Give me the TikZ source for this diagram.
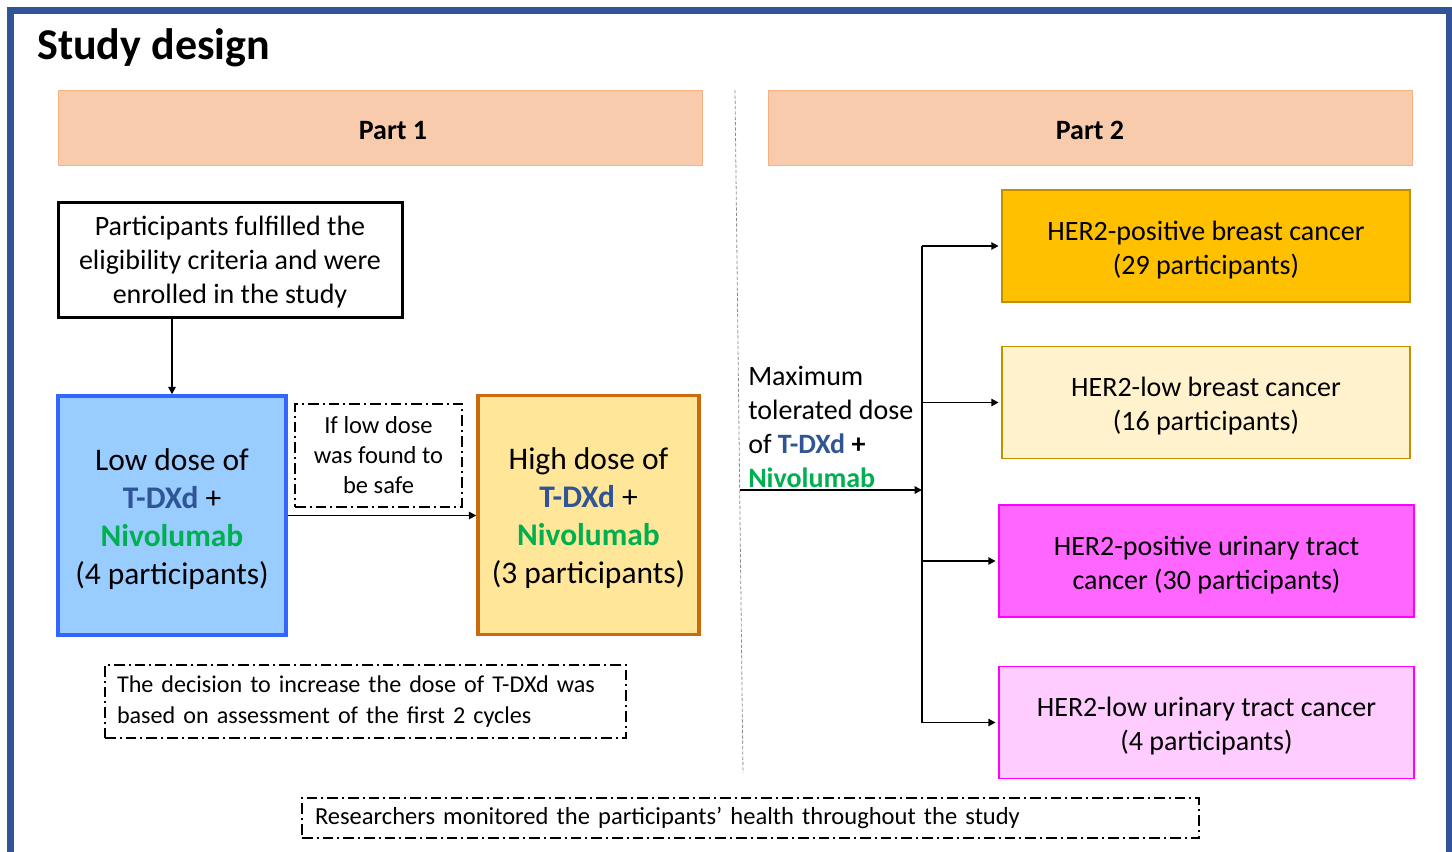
\documentclass[tikz,border=0pt]{standalone}
\usepackage{fontspec}
\setmainfont{Carlito}
\usetikzlibrary{positioning}
\usetikzlibrary{arrows.meta}
\definecolor{frameblue}{HTML}{2F5597}
\definecolor{partfill}{HTML}{F8CBAD}
\definecolor{partline}{HTML}{F4B183}
\definecolor{lowfill}{HTML}{99CCFF}
\definecolor{lowline}{HTML}{3366FF}
\definecolor{highfill}{HTML}{FFE699}
\definecolor{highline}{HTML}{CC6A10}
\definecolor{tdxdblue}{HTML}{2F5597}
\definecolor{nivogreen}{HTML}{00B050}
\definecolor{bcposfill}{HTML}{FFC000}
\definecolor{bclowfill}{HTML}{FFF2CC}
\definecolor{goldline}{HTML}{BF9000}
\definecolor{utposfill}{HTML}{FF66FF}
\definecolor{utlowfill}{HTML}{FFCCFF}
\definecolor{magline}{HTML}{FF00FF}
\newcommand{\tdxd}{\textcolor{tdxdblue}{\textbf{T-DXd}}}
\newcommand{\nivo}{\textcolor{nivogreen}{\textbf{Nivolumab}}}
\newcommand{\lift}[1]{\rule{0pt}{#1em}}
\tikzset{
  framebar/.style= {
    draw = frameblue,
    line width = 5.25pt
  },
  partbar/.style= {
    draw = partline,
    fill = partfill,
    line width = 0.75pt,
    minimum width = 483pt,
    minimum height = 56.25pt,
    font = \fontsize{21}{25.5}\selectfont\bfseries
  },
  sepline/.style= {
    draw = black!45,
    line width = 0.6pt,
    dash pattern = on 2.5pt off 1.5pt
  },
  plainbox/.style= {
    draw = black,
    fill = white,
    line width = 2.25pt,
    align = center,
    inner sep = 0pt,
    font = \fontsize{21}{25.5}\selectfont
  },
  dosebox/.style 2 args= {
    draw = #2,
    fill = #1,
    line width = 2.6pt,
    align = center,
    inner sep = 0pt,
    minimum height = 179.25pt,
    font = \fontsize{23.6}{28.5}\selectfont
  },
  notebox/.style= {
    draw = black,
    line width = 1.1pt,
    dash pattern = on 8pt off 3pt on 1.5pt off 3pt,
    inner ysep = 0pt
  },
  mtdtext/.style= {
    anchor = north west,
    align = left,
    inner sep = 0pt,
    font = \fontsize{21}{25.5}\selectfont
  },
  cohortbox/.style 2 args= {
    draw = #2,
    fill = #1,
    line width = 1.1pt,
    align = center,
    inner sep = 0pt,
    minimum height = 84pt,
    font = \fontsize{21}{25.5}\selectfont
  },
  arr/.style= {
    draw = black,
    line width = 1.3pt,
    -{Triangle[length=5.5pt,width=5.5pt]}
  }
}

\begin{document}
\begin{tikzpicture}[x=0.75pt,y=-0.75pt]
  \useasboundingbox (0,0) rectangle (1452,851);
  \draw[framebar] (10.5,860) -- (10.5,10.5) -- (1449,10.5) -- (1449,860);
  \node[anchor=base west,inner sep=0pt,font=\fontsize{33}{40}\selectfont\bfseries] (title) at (37,59) {Study design};

  \node[partbar] (part1) at (380,127.5) {\hspace*{19.5pt}\lift{0.85}Part 1};
  \node[partbar,right=48.75pt of part1] (part2) {\lift{0.85}Part 2};
  \draw[sepline] (735,90) -- (743,773);

  \node[plainbox,minimum width=258pt,minimum height=86.25pt] (enrol) at (230,259.5)
    {\lift{0.85}Participants fulfilled the\\eligibility criteria and were\\enrolled in the study};
  \node[dosebox={lowfill}{lowline},minimum width=171pt] (low) at (172,515.5)
    {\lift{0.9}Low dose of\\\tdxd{} +\\\nivo\\(4 participants)};
  \node[dosebox={highfill}{highline},minimum width=165.75pt] (high) at (588.5,515)
    {\lift{0.9}High dose of\\\tdxd{} +\\\nivo\\(3 participants)};
  \node[notebox,align=center,inner xsep=0pt,minimum width=125.25pt,minimum height=77.25pt,
    font=\fontsize{18.4}{22.5}\selectfont] (safe) at (378.5,455.5)
    {If low dose\\was found to\\be safe};
  \draw[arr] (low.north |- enrol.south) -- (low.north);
  \draw[arr] (low.east) -- (low.east -| high.west);

  \node[notebox,align=left,inner xsep=9pt,text width=372.75pt,minimum height=54.75pt,
    font=\fontsize{18.1}{23.25}\selectfont] (decide) at (365.5,701.5)
    {The decision to increase the dose of T-DXd was\\based on assessment of the first 2 cycles};

  \node[mtdtext] (mtd) at (748,366) {Maximum\\tolerated dose\\of \tdxd{} \textbf{+}\\\nivo};

  \node[cohortbox={bcposfill}{goldline},minimum width=306pt] (c1) at (1206,246)
    {\lift{0.95}HER2-positive breast cancer\\(29 participants)};
  \node[cohortbox={bclowfill}{goldline},minimum width=306pt] (c2) at (1206,402.5)
    {\lift{0.95}HER2-low breast cancer\\(16 participants)};
  \node[cohortbox={utposfill}{magline},minimum width=311.25pt] (c3) at (1206.5,561)
    {\lift{0.95}HER2-positive urinary tract\\cancer (30 participants)};
  \node[cohortbox={utlowfill}{magline},minimum width=311.25pt] (c4) at (1206.5,722.5)
    {\lift{0.95}HER2-low urinary tract cancer\\(4 participants)};

  \coordinate (trunk) at (922,246);
  \coordinate (mtdin) at (740,490);
  \draw[line width=1.3pt] (trunk |- c1.west) -- (trunk |- c4.west);
  \draw[arr] (mtdin) -- (mtdin -| trunk);
  \foreach \c in {c1,c2,c3,c4}
    \draw[arr,shorten >=2pt] (trunk |- \c.west) -- (\c.west);

  \node[notebox,align=left,inner xsep=9.75pt,text width=653.25pt,minimum height=30pt,
    font=\fontsize{18.4}{23.25}\selectfont] (monitor) at (750.5,818)
    {Researchers monitored the participants’ health throughout the study};
\end{tikzpicture}
\end{document}
